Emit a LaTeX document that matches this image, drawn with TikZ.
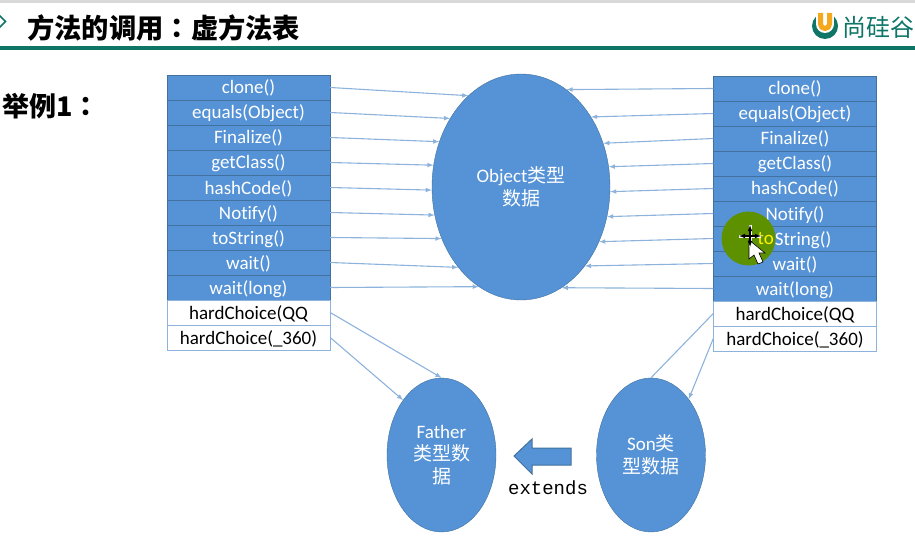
\documentclass[tikz,border=0pt]{standalone}
\usepackage{fontspec}
\setmainfont[Ligatures=NoCommon]{Carlito}
\newfontfamily\cjk{Noto Sans CJK SC}
\newfontfamily\cjktc{Noto Sans CJK TC}
\newfontfamily\mono{Liberation Mono}
\definecolor{blockblue}{HTML}{5593D6}
\definecolor{edgeblue}{HTML}{41719C}
\definecolor{linkblue}{HTML}{8DB3DC}
\definecolor{headgreen}{HTML}{0E7567}
\definecolor{spotgreen}{HTML}{5E9100}
\definecolor{logoyellow}{HTML}{F5A81C}
\tikzset{
    rowblue/.style={draw=edgeblue,fill=blockblue,text=white,minimum width=163,minimum height=25,inner sep=0,text height=13,text depth=0,font=\fontsize{19}{19}\selectfont},
    rowwhite/.style={rowblue,draw=linkblue,fill=white,text=black},
    blob/.style={ellipse,draw=edgeblue,fill=blockblue,text=white,inner sep=0,align=center,font=\fontsize{19}{22.5}\selectfont},
    linkline/.style={draw=linkblue,line width=1.1pt,-latex}
}
\usetikzlibrary{shapes.geometric}
\begin{document}
\begin{tikzpicture}[x=1pt,y=-1pt]
    \useasboundingbox (0,0) rectangle (915,540);
    % header
    \fill[gray!30] (0,0) rectangle (915,3);
    \fill[headgreen] (0,46.5) rectangle (915,50);
    \draw[headgreen,line width=1.5pt] (-7.5,21.5)--(-1,15)--(5.5,21.5)--(-1,28)--cycle;
    \node[anchor=west,inner sep=0,font=\cjk\bfseries\fontsize{27.3}{27}\selectfont] (title) at (27,28) {方法的调用{\cjktc\bfseries ：}虚方法表};
    \node[anchor=west,inner sep=0,font=\cjk\bfseries\fontsize{27}{27}\selectfont] (example) at (2,106) {举例1{\cjktc\bfseries ：}};
    % logo
    \fill[headgreen] (825,26) circle (13);
    \fill[white] (825,24) circle (9);
    \fill[white] (816,9) rectangle (834,24);
    \draw[logoyellow,line width=5pt] (820.5,13)--(820.5,24) arc (180:0:4.5 and 4.5)--(829.5,13);
    \node[anchor=west,inner sep=0,text=headgreen,font=\cjk\fontsize{24}{24}\selectfont] (brand) at (842,27) {尚硅谷};
    % the two tables
    \foreach \i/\txt in {1/clone(),2/equals(Object),3/Finalize(),4/getClass(),5/hashCode(),6/Notify(),7/toString(),8/wait(),9/wait(long)}
        \node[rowblue] (l\i) at (248.5,62.5+25*\i) {\txt};
    \foreach \i/\txt in {1/clone(),2/equals(Object),3/Finalize(),4/getClass(),5/hashCode(),6/Notify(),7/\phantom{to}String(),8/wait(),9/wait(long)}
        \node[rowblue] (r\i) at (795,63.5+25*\i) {\txt};
    \foreach \i/\txt in {10/hardChoice(QQ,11/hardChoice(\_360)} {
        \node[rowwhite] (l\i) at (248.5,62.5+25*\i) {\txt};
        \node[rowwhite] (r\i) at (795,63.5+25*\i) {\txt};
    }
    % ellipses
    \node[blob,minimum width=178,minimum height=226] (obj) at (521,187) {Object{\cjk 类型}\\{\cjk 数据}};
    \node[blob,minimum width=109,minimum height=154] (father) at (441.5,455) {Father\\{\cjk 类型数}\\{\cjk 据}};
    \node[blob,minimum width=109,minimum height=154] (son) at (651,455) {Son{\cjk 类}\\{\cjk 型数据}};
    % links
    \foreach \i/\a in {1/120,2/136,3/151,4/166,5/182,6/198,7/213,8/232,9/247}
        \draw[linkline] (l\i.east) -- (obj.\a);
    \foreach \i/\a in {1/65,2/45,3/28,4/13,5/357,6/341,7/325,8/309,9/292}
        \draw[linkline] (r\i.west) -- (obj.\a);
    \draw[linkline] (l10.east) -- (father.north);
    \draw[linkline] (l11.east) -- (father.125);
    \draw[linkline,-] (r10.west) -- (son.north);
    \draw[linkline] (r11.west) -- (son.56);
    % extends arrow
    \draw[edgeblue,fill=blockblue,line width=1pt] (571,448)--(532,448)--(532,439)--(514,456)--(532,474)--(532,465)--(571,465)--cycle;
    \node[inner sep=0,font=\mono\fontsize{19}{19}\selectfont] (ext) at (548,488) {extends};
    % mouse pointer
    \fill[spotgreen] (748.5,238.5) circle (27);
    \node[anchor=base east,inner sep=0,text=yellow,font=\fontsize{19}{19}\selectfont] (hi) at (774,244.5) {to};
    \draw[black,fill=white,line width=.6pt] (749,240)--(749,259)--(754,255)--(758,264)--(763,262)--(759,253)--(765,253)--cycle;
    \draw[white,line width=3pt] (739,236)--(761,236) (750,225)--(750,247);
    \draw[black,line width=1.1pt,<->,>=latex] (739,236)--(761,236);
    \draw[black,line width=1.1pt,<->,>=latex] (750,225)--(750,247);
\end{tikzpicture}
\end{document}
